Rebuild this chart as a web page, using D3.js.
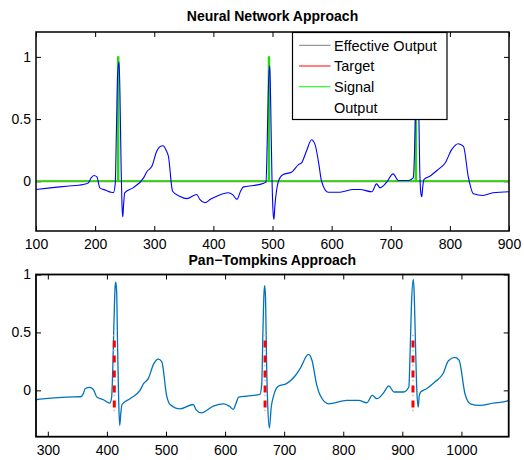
<!DOCTYPE html>
<html>
<head>
<meta charset="utf-8">
<script src="https://cdn.jsdelivr.net/npm/d3@7"></script>
<style>
  body { margin: 0; background: #fff; }
  text { font-family: "Liberation Sans", Arial, Helvetica, sans-serif; }
  .axis text { font-size: 14px; fill: #000; }
  .axis line { stroke: #000; }
</style>
</head>
<body>
<script>
// top panel: neural network output (blue), x from 100 to 900
var nnOutput = [
  [100,-0.066],[124,-0.053],[152,-0.040],[180,-0.026],[188,-0.015],[193,0.025],[198,0.046],
  [203,0.035],[208,-0.053],[218,-0.072],[227,-0.088],[231,-0.09],[234,-0.02],[236,0.4],
  [238,0.85],[240.5,0.96],[242,0.7],[244,0.1],[245.5,-0.2],[246.8,-0.285],[248,-0.2],
  [250,-0.093],[264,-0.053],[282,0.027],[288,0.08],[296,0.12],[304,0.24],[310,0.28],
  [315,0.286],[320,0.25],[324,0.2],[331,-0.08],[343,-0.12],[355,-0.14],[372,-0.106],
  [377,-0.146],[386,-0.173],[395,-0.145],[406,-0.12],[425,-0.093],[433,-0.11],[440,-0.146],
  [446,-0.08],[451,-0.045],[468,-0.034],[484,-0.018],[489,-0.005],[491,0.3],[493,0.75],
  [495.5,0.93],[497,0.6],[499,0.05],[501,-0.25],[502.5,-0.306],[504,-0.2],[507,-0.07],
  [510,0],[518,0.054],[532,0.072],[544,0.134],[549,0.147],[558,0.25],[566,0.334],
  [572,0.294],[578,0.15],[583,0],[594,-0.088],[614,-0.088],[637,-0.066],[648,-0.066],
  [668,-0.085],[676,-0.021],[682,-0.053],[693,-0.008],[704,0.059],[713,0.006],[730,0.006],
  [738,0.027],[740,0.2],[742,0.6],[743.5,0.9],[745,0.95],[747,0.7],[749,0.1],[751,-0.1],
  [752.5,-0.125],[754,-0.05],[756,0.013],[766,0.04],[780,0.094],[792,0.147],[803,0.254],
  [814,0.302],[823,0.28],[831,0.04],[840,-0.101],[856,-0.114],[873,-0.093],[900,-0.085]
];
// signal pulses (value 1 between start and end, 0 elsewhere)
var signalPulses = [[238, 240], [493, 495], [741.5, 743.5]];
var nnXTicks = [100, 200, 300, 400, 500, 600, 700, 800, 900];
var nnYTicks = [0, 0.5, 1];
var legendLabels = ['Effective Output', 'Target', 'Signal', 'Output'];
var legendColors = ['#7f7f7f', '#ff0000', '#00ff00', 'none'];

// bottom panel: Pan-Tompkins
var ptOutput = [
  [280,-0.081],[300,-0.07],[332,-0.058],[355,-0.055],[360,-0.03],[363,0.014],[371,0.026],
  [377,0.009],[383,-0.058],[394,-0.081],[405,-0.11],[408,-0.06],[410,0.2],[412,0.6],
  [414,0.9],[415,0.933],[416.5,0.85],[418,0.4],[420,-0.1],[421.6,-0.304],[423.5,-0.2],
  [425.6,-0.122],[439,-0.072],[456,0],[462,0.058],[470,0.101],[479,0.226],[487,0.27],
  [493,0.246],[501,-0.043],[507,-0.122],[524,-0.16],[546,-0.122],[551,-0.168],[560,-0.194],
  [580,-0.136],[598,-0.116],[608,-0.14],[614,-0.165],[618,-0.12],[623,-0.058],[637,-0.049],
  [659,-0.035],[662,0.05],[664,0.5],[666,0.85],[667,0.904],[668.5,0.8],[670,0.3],[672,-0.1],
  [675,-0.325],[678,-0.15],[682,-0.049],[690,0.035],[704,0.058],[718,0.122],[727,0.188],
  [741,0.31],[747,0.26],[755,0.05],[761,-0.043],[775,-0.116],[806,-0.087],[826,-0.087],
  [840,-0.107],[849,-0.043],[857,-0.072],[868,-0.023],[877,0.038],[886,-0.014],[902,-0.014],
  [911,0.029],[913,0.3],[915.5,0.75],[918.5,0.957],[920,0.85],[922,0.45],[924.5,0],
  [927,-0.145],[928.5,-0.05],[931,-0.014],[941,0.014],[955,0.072],[969,0.145],[978,0.255],
  [989,0.284],[996,0.26],[1006,-0.029],[1015,-0.116],[1031,-0.13],[1054,-0.11],[1077,-0.093],
  [1080,-0.08]
];
var ptDetections = [412.5, 667.7, 918];
var ptStemRange = [-0.2, 0.48];
var ptXTicks = [300, 400, 500, 600, 700, 800, 900, 1000];
var ptYTicks = [0, 0.5, 1];

var width = 524;
var height = 460;

var svg = d3.select('body')
    .append('svg')
    .attr('width', width)
    .attr('height', height);

var defs = svg.append('defs');

function drawFrame(box, xScale, yScale, xTicks, yTicks, labelPad, title, titleY, id) {
    var g = svg.append('g');

    defs.append('clipPath')
        .attr('id', id)
        .append('rect')
        .attr('x', box.left)
        .attr('y', box.top)
        .attr('width', box.right - box.left)
        .attr('height', box.bottom - box.top);

    g.append('g')
        .attr('class', 'axis')
        .attr('transform', 'translate(0,' + box.bottom + ')')
        .call(d3.axisBottom(xScale).tickValues(xTicks).tickSizeInner(-5).tickSizeOuter(0)
            .tickPadding(labelPad).tickFormat(d3.format('d')))
        .call(function(s) { s.select('.domain').remove(); });
    g.append('g')
        .attr('class', 'axis')
        .attr('transform', 'translate(0,' + box.top + ')')
        .call(d3.axisTop(xScale).tickValues(xTicks).tickSizeInner(-5).tickSizeOuter(0).tickFormat(''))
        .call(function(s) { s.select('.domain').remove(); });
    g.append('g')
        .attr('class', 'axis')
        .attr('transform', 'translate(' + box.left + ',0)')
        .call(d3.axisLeft(yScale).tickValues(yTicks).tickSizeInner(-5).tickSizeOuter(0)
            .tickPadding(5).tickFormat(d3.format('~g')))
        .call(function(s) { s.select('.domain').remove(); });
    g.append('g')
        .attr('class', 'axis')
        .attr('transform', 'translate(' + box.right + ',0)')
        .call(d3.axisRight(yScale).tickValues(yTicks).tickSizeInner(-5).tickSizeOuter(0).tickFormat(''))
        .call(function(s) { s.select('.domain').remove(); });

    svg.append('text')
        .attr('x', (box.left + box.right) / 2)
        .attr('y', titleY)
        .attr('text-anchor', 'middle')
        .attr('font-size', '14px')
        .attr('font-weight', 'bold')
        .text(title);
}

function drawBox(box, w) {
    svg.append('rect')
        .attr('x', box.left)
        .attr('y', box.top)
        .attr('width', box.right - box.left)
        .attr('height', box.bottom - box.top)
        .attr('fill', 'none')
        .attr('stroke', '#000')
        .attr('stroke-width', w);
}

// ---------- top panel ----------
var topBox = { left: 36, right: 509, top: 32, bottom: 231 };
var x1 = d3.scaleLinear().domain([100, 900]).range([topBox.left, topBox.right]);
var y1 = d3.scaleLinear().domain([-0.4, 1.2]).range([topBox.bottom, topBox.top]);

drawFrame(topBox, x1, y1, nnXTicks, nnYTicks, 8, 'Neural Network Approach', 20.5, 'clipTop');

var line1 = d3.line()
    .x(function(d) { return x1(d[0]); })
    .y(function(d) { return y1(d[1]); });

var topPlot = svg.append('g').attr('clip-path', 'url(#clipTop)');

// effective output (zero line)
topPlot.append('path')
    .attr('d', line1([[100, 0], [900, 0]]))
    .attr('fill', 'none')
    .attr('stroke', '#8a8a60')
    .attr('stroke-width', 2);

// signal
var signal = [[100, 0]];
signalPulses.forEach(function(p) {
    signal.push([p[0], 0], [p[0], 1], [p[1], 1], [p[1], 0]);
});
signal.push([900, 0]);

topPlot.append('path')
    .attr('d', line1(signal))
    .attr('fill', 'none')
    .attr('stroke', '#22dd00')
    .attr('stroke-width', 1.3);

topPlot.append('path')
    .attr('d', line1.curve(d3.curveMonotoneX)(nnOutput))
    .attr('fill', 'none')
    .attr('stroke', '#0000ff')
    .attr('stroke-width', 1.1);

drawBox(topBox, 1.5);

// legend
var legend = svg.append('g').attr('transform', 'translate(292.5,32.5)');
legend.append('rect')
    .attr('width', 154.5)
    .attr('height', 87)
    .attr('fill', '#fff')
    .attr('stroke', '#000')
    .attr('stroke-width', 1.2);

var rows = legend.selectAll('g.row')
    .data(legendLabels)
    .enter()
    .append('g')
    .attr('class', 'row')
    .attr('transform', function(d, i) { return 'translate(0,' + (12.8 + i * 20.7) + ')'; });

rows.append('line')
    .attr('x1', 6.5)
    .attr('x2', 38)
    .attr('stroke', function(d, i) { return legendColors[i]; })
    .attr('stroke-width', 1);

rows.append('text')
    .attr('x', 41.5)
    .attr('dy', '0.36em')
    .attr('font-size', '14.5px')
    .text(function(d) { return d; });

// ---------- bottom panel ----------
var botBox = { left: 36, right: 508.7, top: 274.5, bottom: 436.7 };
var x2 = d3.scaleLinear().domain([280, 1080]).range([botBox.left, botBox.right]);
var y2 = d3.scaleLinear().domain([-0.4, 1]).range([botBox.bottom, botBox.top]);

drawFrame(botBox, x2, y2, ptXTicks, ptYTicks, 8, 'Pan\u2212Tompkins Approach', 264.6, 'clipBot');

var line2 = d3.line()
    .x(function(d) { return x2(d[0]); })
    .y(function(d) { return y2(d[1]); });

var botPlot = svg.append('g').attr('clip-path', 'url(#clipBot)');

botPlot.append('path')
    .attr('d', line2.curve(d3.curveMonotoneX)(ptOutput))
    .attr('fill', 'none')
    .attr('stroke', '#0072bd')
    .attr('stroke-width', 1.3);

line2.curve(d3.curveLinear);

// detection stems: thick red dashes with faint dots between
ptDetections.forEach(function(d) {
    var pts = [[d, ptStemRange[1]], [d, ptStemRange[0]]];
    botPlot.append('path')
        .attr('d', line2(pts))
        .attr('stroke', '#ffb3b3')
        .attr('stroke-width', 2)
        .attr('stroke-dasharray', '1.5,13.5');
    botPlot.append('path')
        .attr('d', line2(pts))
        .attr('stroke', '#ff0000')
        .attr('stroke-width', 3)
        .attr('stroke-dasharray', '7,8')
        .attr('stroke-dashoffset', 9.3);
});

drawBox(botBox, 1.8);
</script>
</body>
</html>
